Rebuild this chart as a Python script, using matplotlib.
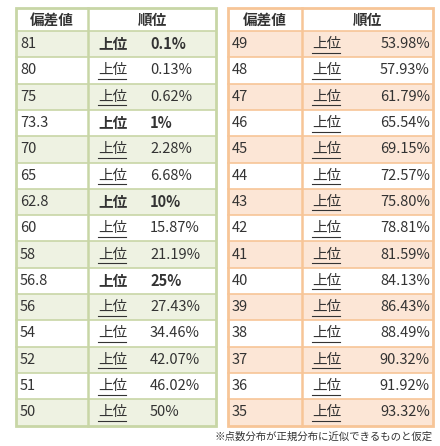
import matplotlib.pyplot as plt
from matplotlib.patches import Rectangle

plt.rcParams['font.family'] = ['Noto Sans CJK JP', 'DejaVu Sans']

left_scores = ["81", "80", "75", "73.3", "70", "65", "62.8", "60", "58", "56.8", "56", "54", "52", "51", "50"]
left_pcts = ["0.1%", "0.13%", "0.62%", "1%", "2.28%", "6.68%", "10%", "15.87%", "21.19%", "25%",
             "27.43%", "34.46%", "42.07%", "46.02%", "50%"]
left_bold = ["81", "73.3", "62.8", "56.8"]
right_scores = [str(v) for v in range(49, 34, -1)]
right_pcts = ["53.98%", "57.93%", "61.79%", "65.54%", "69.15%", "72.57%", "75.80%", "78.81%",
              "81.59%", "84.13%", "86.43%", "88.49%", "90.32%", "91.92%", "93.32%"]
headers = ["偏差値", "順位"]
note = "※点数分布が正規分布に近似できるものと仮定"

fig = plt.figure(figsize=(4.4, 4.46), dpi=100)
ax = fig.add_axes([0, 0, 1, 1])
ax.set_xlim(0, 440)
ax.set_ylim(446, 0)
ax.axis('off')

top, head_h, row_h = 8, 23, 26.3
fs = 10.5


def draw_table(x0, xs, x1, scores, pcts, bold, line_c, fill_c, pct_right):
    n = len(scores)
    bottom = top + head_h + n * row_h
    for i in range(n):
        y = top + head_h + i * row_h
        if i % 2 == 0:
            ax.add_patch(Rectangle((x0, y), x1 - x0, row_h, fc=fill_c, ec='none'))
        ax.plot([x0, x1], [y, y], color=line_c, lw=1.2)
        yc = y + row_h / 2
        b = scores[i] in bold
        w = 'bold' if b else 'normal'
        ax.text(x0 + 4, yc, scores[i], fontsize=fs, va='center', ha='left', color='#333333')
        ax.text(xs + 10, yc, "上位", fontsize=fs, va='center', ha='left', color='#333333', fontweight=w)
        if not b:
            ax.plot([xs + 10, xs + 38], [yc + 8.5, yc + 8.5], color='#333333', lw=0.8)
        if pct_right:
            ax.text(x1 - 3, yc, pcts[i], fontsize=fs, va='center', ha='right', color='#333333', fontweight=w)
        else:
            ax.text(xs + 62, yc, pcts[i], fontsize=fs, va='center', ha='left', color='#333333', fontweight=w)
    ax.text((x0 + xs) / 2, top + head_h / 2, headers[0], fontsize=fs, fontweight='bold', ha='center', va='center', color='#333333')
    ax.text((xs + x1) / 2, top + head_h / 2, headers[1], fontsize=fs, fontweight='bold', ha='center', va='center', color='#333333')
    ax.plot([xs, xs], [top, bottom], color=line_c, lw=1.8)
    ax.add_patch(Rectangle((x0, top), x1 - x0, bottom - top, fc='none', ec=line_c, lw=2))


draw_table(16, 88, 216, left_scores, left_pcts, left_bold, '#c8d6a6', '#eef2e2', False)
draw_table(228, 302, 433, right_scores, right_pcts, [], '#f7c597', '#fce6d6', True)

ax.text(433, 437, note, fontsize=7.5, ha='right', va='center', color='#333333')

fig.savefig("out.png", dpi=100)
